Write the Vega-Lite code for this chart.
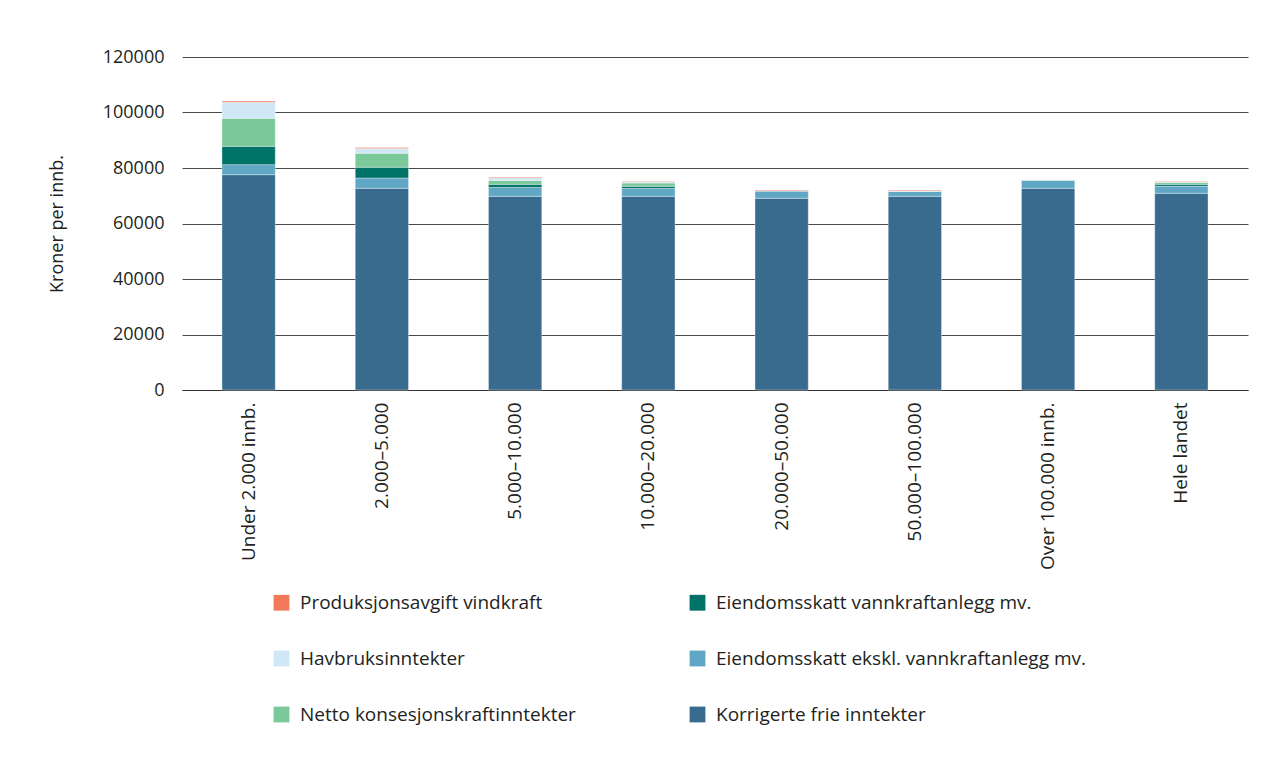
{
  "$schema": "https://vega.github.io/schema/vega-lite/v6.json",
  "autosize": {"type": "none"},
  "width": 1066,
  "height": 333,
  "padding": {"left": 182, "top": 57, "right": 25, "bottom": 370},
  "background": "white",
  "config": {
    "font": "Open Sans",
    "view": {"stroke": null},
    "axis": {"labelFont": "Open Sans", "titleFont": "Open Sans", "labelColor": "#231f20", "titleColor": "#231f20"},
    "legend": {"labelFont": "Open Sans"}
  },
  "data": {
    "values": [
      {"gruppe": "Under 2.000 innb.", "kategori": "Korrigerte frie inntekter", "verdi": 77600},
      {"gruppe": "Under 2.000 innb.", "kategori": "Eiendomsskatt ekskl. vannkraftanlegg mv.", "verdi": 3600},
      {"gruppe": "Under 2.000 innb.", "kategori": "Eiendomsskatt vannkraftanlegg mv.", "verdi": 6600},
      {"gruppe": "Under 2.000 innb.", "kategori": "Netto konsesjonskraftinntekter", "verdi": 10100},
      {"gruppe": "Under 2.000 innb.", "kategori": "Havbruksinntekter", "verdi": 5800},
      {"gruppe": "Under 2.000 innb.", "kategori": "Produksjonsavgift vindkraft", "verdi": 400},
      {"gruppe": "2.000–5.000", "kategori": "Korrigerte frie inntekter", "verdi": 72700},
      {"gruppe": "2.000–5.000", "kategori": "Eiendomsskatt ekskl. vannkraftanlegg mv.", "verdi": 3700},
      {"gruppe": "2.000–5.000", "kategori": "Eiendomsskatt vannkraftanlegg mv.", "verdi": 3900},
      {"gruppe": "2.000–5.000", "kategori": "Netto konsesjonskraftinntekter", "verdi": 5000},
      {"gruppe": "2.000–5.000", "kategori": "Havbruksinntekter", "verdi": 1700},
      {"gruppe": "2.000–5.000", "kategori": "Produksjonsavgift vindkraft", "verdi": 400},
      {"gruppe": "5.000–10.000", "kategori": "Korrigerte frie inntekter", "verdi": 69800},
      {"gruppe": "5.000–10.000", "kategori": "Eiendomsskatt ekskl. vannkraftanlegg mv.", "verdi": 3200},
      {"gruppe": "5.000–10.000", "kategori": "Eiendomsskatt vannkraftanlegg mv.", "verdi": 1100},
      {"gruppe": "5.000–10.000", "kategori": "Netto konsesjonskraftinntekter", "verdi": 1400},
      {"gruppe": "5.000–10.000", "kategori": "Havbruksinntekter", "verdi": 1000},
      {"gruppe": "5.000–10.000", "kategori": "Produksjonsavgift vindkraft", "verdi": 300},
      {"gruppe": "10.000–20.000", "kategori": "Korrigerte frie inntekter", "verdi": 69800},
      {"gruppe": "10.000–20.000", "kategori": "Eiendomsskatt ekskl. vannkraftanlegg mv.", "verdi": 2800},
      {"gruppe": "10.000–20.000", "kategori": "Eiendomsskatt vannkraftanlegg mv.", "verdi": 800},
      {"gruppe": "10.000–20.000", "kategori": "Netto konsesjonskraftinntekter", "verdi": 1200},
      {"gruppe": "10.000–20.000", "kategori": "Havbruksinntekter", "verdi": 500},
      {"gruppe": "10.000–20.000", "kategori": "Produksjonsavgift vindkraft", "verdi": 200},
      {"gruppe": "20.000–50.000", "kategori": "Korrigerte frie inntekter", "verdi": 69100},
      {"gruppe": "20.000–50.000", "kategori": "Eiendomsskatt ekskl. vannkraftanlegg mv.", "verdi": 2700},
      {"gruppe": "20.000–50.000", "kategori": "Eiendomsskatt vannkraftanlegg mv.", "verdi": 0},
      {"gruppe": "20.000–50.000", "kategori": "Netto konsesjonskraftinntekter", "verdi": 0},
      {"gruppe": "20.000–50.000", "kategori": "Havbruksinntekter", "verdi": 0},
      {"gruppe": "20.000–50.000", "kategori": "Produksjonsavgift vindkraft", "verdi": 300},
      {"gruppe": "50.000–100.000", "kategori": "Korrigerte frie inntekter", "verdi": 69800},
      {"gruppe": "50.000–100.000", "kategori": "Eiendomsskatt ekskl. vannkraftanlegg mv.", "verdi": 1900},
      {"gruppe": "50.000–100.000", "kategori": "Eiendomsskatt vannkraftanlegg mv.", "verdi": 0},
      {"gruppe": "50.000–100.000", "kategori": "Netto konsesjonskraftinntekter", "verdi": 0},
      {"gruppe": "50.000–100.000", "kategori": "Havbruksinntekter", "verdi": 0},
      {"gruppe": "50.000–100.000", "kategori": "Produksjonsavgift vindkraft", "verdi": 300},
      {"gruppe": "Over 100.000 innb.", "kategori": "Korrigerte frie inntekter", "verdi": 72700},
      {"gruppe": "Over 100.000 innb.", "kategori": "Eiendomsskatt ekskl. vannkraftanlegg mv.", "verdi": 2900},
      {"gruppe": "Over 100.000 innb.", "kategori": "Eiendomsskatt vannkraftanlegg mv.", "verdi": 0},
      {"gruppe": "Over 100.000 innb.", "kategori": "Netto konsesjonskraftinntekter", "verdi": 200},
      {"gruppe": "Over 100.000 innb.", "kategori": "Havbruksinntekter", "verdi": 0},
      {"gruppe": "Over 100.000 innb.", "kategori": "Produksjonsavgift vindkraft", "verdi": 0},
      {"gruppe": "Hele landet", "kategori": "Korrigerte frie inntekter", "verdi": 70900},
      {"gruppe": "Hele landet", "kategori": "Eiendomsskatt ekskl. vannkraftanlegg mv.", "verdi": 2500},
      {"gruppe": "Hele landet", "kategori": "Eiendomsskatt vannkraftanlegg mv.", "verdi": 700},
      {"gruppe": "Hele landet", "kategori": "Netto konsesjonskraftinntekter", "verdi": 700},
      {"gruppe": "Hele landet", "kategori": "Havbruksinntekter", "verdi": 300},
      {"gruppe": "Hele landet", "kategori": "Produksjonsavgift vindkraft", "verdi": 200}
    ]
  },
  "transform": [
    {"calculate": "indexof(['Korrigerte frie inntekter','Eiendomsskatt ekskl. vannkraftanlegg mv.','Eiendomsskatt vannkraftanlegg mv.','Netto konsesjonskraftinntekter','Havbruksinntekter','Produksjonsavgift vindkraft'], datum.kategori)", "as": "stableorden"}
  ],
  "mark": {"type": "bar", "stroke": "white", "strokeWidth": 0.6, "strokeOpacity": 0.6},
  "encoding": {
    "x": {
      "field": "gruppe",
      "type": "nominal",
      "sort": null,
      "scale": {"paddingInner": 0.6, "paddingOuter": 0.3},
      "axis": {
        "title": null,
        "labelAngle": -90,
        "labelFontSize": 19,
        "labelPadding": 12,
        "ticks": false,
        "domain": true,
        "domainColor": "#333333",
        "domainWidth": 1,
        "labelAlign": "right",
        "labelBaseline": "middle"
      }
    },
    "y": {
      "field": "verdi",
      "type": "quantitative",
      "stack": "zero",
      "scale": {"domain": [0, 120000], "nice": false},
      "axis": {
        "title": "Kroner per innb.",
        "titleFontSize": 18,
        "titleFontWeight": "normal",
        "titlePadding": 36,
        "values": [0, 20000, 40000, 60000, 80000, 100000, 120000],
        "format": "d",
        "labelFontSize": 18,
        "labelPadding": 18,
        "ticks": false,
        "domain": false,
        "grid": true,
        "gridColor": "#4a4a4a",
        "gridWidth": 1
      }
    },
    "order": {"field": "stableorden", "type": "quantitative", "sort": "ascending"},
    "color": {
      "field": "kategori",
      "type": "nominal",
      "scale": {
        "domain": [
          "Produksjonsavgift vindkraft",
          "Eiendomsskatt vannkraftanlegg mv.",
          "Havbruksinntekter",
          "Eiendomsskatt ekskl. vannkraftanlegg mv.",
          "Netto konsesjonskraftinntekter",
          "Korrigerte frie inntekter"
        ],
        "range": ["#f27a5b", "#007369", "#d0e8f6", "#5fa7c4", "#7bc99b", "#386b8e"]
      },
      "legend": {
        "title": null,
        "orient": "none",
        "legendX": 90,
        "legendY": 536,
        "columns": 2,
        "direction": "horizontal",
        "columnPadding": 112,
        "rowPadding": 36,
        "symbolType": "square",
        "symbolSize": 250,
        "symbolStrokeWidth": 0,
        "symbolOpacity": 1,
        "labelFontSize": 19,
        "labelColor": "#231f20",
        "labelOffset": 9,
        "labelLimit": 500
      }
    }
  }
}
